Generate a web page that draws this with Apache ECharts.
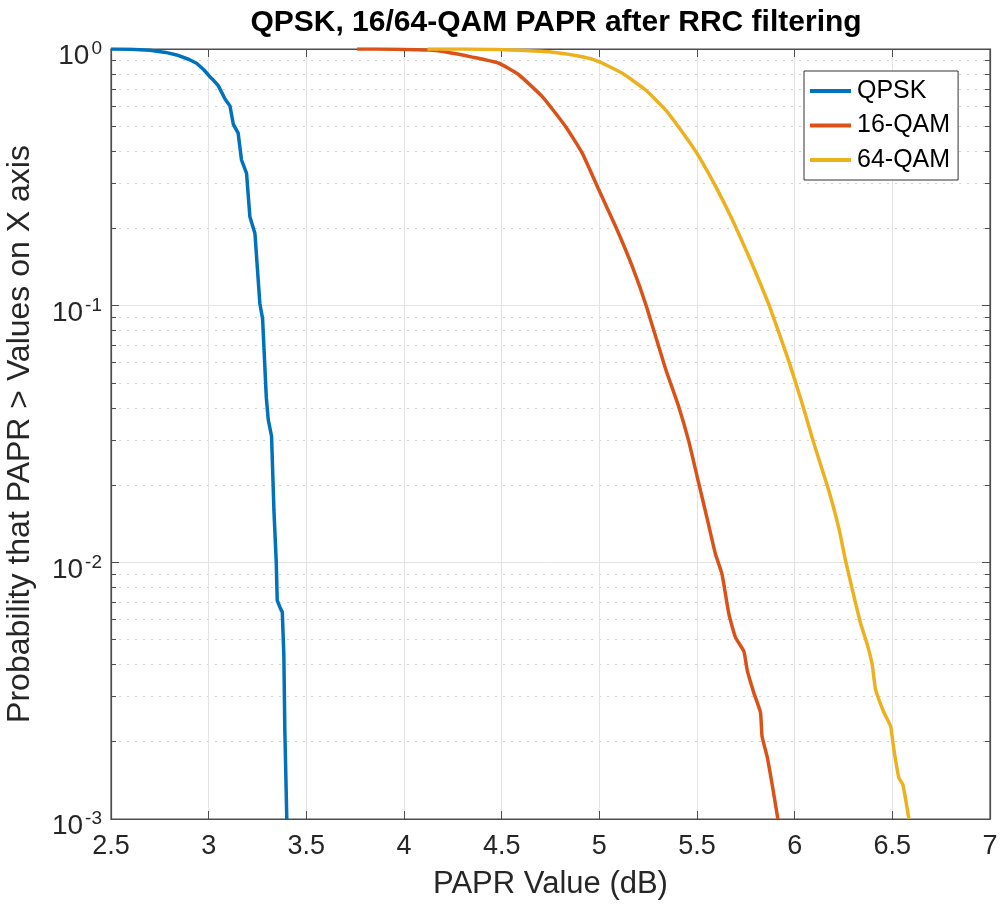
<!DOCTYPE html>
<html>
<head>
<meta charset="utf-8">
<script src="https://cdn.jsdelivr.net/npm/echarts@6/dist/echarts.min.js"></script>
<style>
html,body{margin:0;padding:0;background:#fff;}
#chart{width:1001px;height:911px;}
</style>
</head>
<body>
<div id="chart"></div>
<script>
// ---- Data ----
const seriesNames = ['QPSK', '16-QAM', '64-QAM'];

const qpskX = [2.50, 2.60, 2.70, 2.78, 2.836, 2.90, 2.938, 2.975, 3.006, 3.025, 3.049, 3.07, 3.083, 3.109, 3.126, 3.151, 3.168, 3.194, 3.211, 3.237, 3.262, 3.276, 3.295, 3.305, 3.322, 3.334, 3.346, 3.351, 3.368, 3.377, 3.385, 3.390, 3.400];
const qpskP = [1.0, 0.997, 0.988, 0.97, 0.948, 0.91, 0.88, 0.83, 0.78, 0.755, 0.72, 0.67, 0.64, 0.60, 0.51, 0.47, 0.37, 0.328, 0.222, 0.191, 0.102, 0.089, 0.044, 0.036, 0.031, 0.016, 0.010, 0.0071, 0.0066, 0.0064, 0.0043, 0.0022, 0.001];

const qam16X = [3.76, 3.95, 4.13, 4.234, 4.35, 4.486, 4.589, 4.708, 4.828, 4.913, 4.998, 5.084, 5.169, 5.24, 5.338, 5.406, 5.458, 5.509, 5.552, 5.594, 5.628, 5.663, 5.697, 5.740, 5.757, 5.791, 5.825, 5.833, 5.859, 5.885, 5.914];
const qam16P = [1.0, 0.998, 0.99, 0.967, 0.93, 0.88, 0.792, 0.652, 0.498, 0.392, 0.282, 0.203, 0.142, 0.100, 0.057, 0.0405, 0.0296, 0.0203, 0.0148, 0.0108, 0.0090, 0.0063, 0.0051, 0.0045, 0.0038, 0.0031, 0.0026, 0.0021, 0.00175, 0.00136, 0.001];

const qam64X = [4.12, 4.30, 4.486, 4.60, 4.742, 4.913, 4.998, 5.118, 5.237, 5.340, 5.442, 5.510, 5.596, 5.681, 5.766, 5.80, 5.87, 5.970, 6.038, 6.090, 6.124, 6.175, 6.227, 6.260, 6.294, 6.337, 6.371, 6.397, 6.414, 6.457, 6.491, 6.508, 6.533, 6.554, 6.585];
const qam64P = [1.0, 0.999, 0.995, 0.988, 0.976, 0.933, 0.893, 0.804, 0.692, 0.578, 0.455, 0.381, 0.291, 0.216, 0.155, 0.135, 0.100, 0.0608, 0.0417, 0.0305, 0.0252, 0.019, 0.0135, 0.0102, 0.0079, 0.0058, 0.0048, 0.0040, 0.0032, 0.0026, 0.0023, 0.00186, 0.00145, 0.00136, 0.001];

const xTicks = { min: 2.5, max: 7, interval: 0.5 };
const yTicks = { min: 0.001, max: 1 };

const colors = ['#0072BD', '#D95319', '#EDB120'];

function pairs(xs, ys) { return xs.map((x, i) => [x, ys[i]]); }

const FONT = '"Liberation Sans", Arial, Helvetica, sans-serif';
const TXT = '#262626';
const AX = '#4d4d4d';

const chart = echarts.init(document.getElementById('chart'), null, { renderer: 'canvas' });

function expOf(v) { return Math.round(Math.log10(v)); }

function lineSeries(i, xs, ys, smooth) {
  return {
    name: seriesNames[i], type: 'line', data: pairs(xs, ys),
    symbol: 'none', showSymbol: false,
    smooth: smooth,
    lineStyle: { width: 3.5, color: colors[i] },
    itemStyle: { color: colors[i] },
    clip: true
  };
}

const option = {
  backgroundColor: '#fff',
  animation: false,
  color: colors,
  title: {
    text: 'QPSK, 16/64-QAM PAPR after RRC filtering',
    left: 551,
    textAlign: 'center',
    top: 3,
    textStyle: { fontFamily: FONT, fontWeight: 'bold', fontSize: 30, color: '#000' }
  },
  grid: { left: 111, right: 11, top: 49, bottom: 92, show: true, borderColor: AX, borderWidth: 1.2, backgroundColor: '#fff', outerBoundsMode: 'none', containLabel: false },
  legend: {
    data: seriesNames,
    orient: 'vertical',
    left: 804,
    top: 71,
    padding: [7, 8, 7, 6],
    icon: 'rect',
    itemWidth: 41,
    itemHeight: 4,
    itemGap: 8.5,
    backgroundColor: '#fff',
    borderColor: '#333',
    borderWidth: 1,
    borderRadius: 0,
    textStyle: { fontFamily: FONT, fontSize: 25, color: '#000', lineHeight: 26, padding: [0, 0, 0, 1] }
  },
  xAxis: [{
    type: 'value',
    min: xTicks.min, max: xTicks.max, interval: xTicks.interval,
    name: 'PAPR Value (dB)',
    nameLocation: 'middle',
    nameGap: 50,
    nameTextStyle: { fontFamily: FONT, fontSize: 31, color: TXT },
    axisLine: { show: true, lineStyle: { color: AX, width: 1.2 } },
    axisTick: { show: true, inside: true, length: 8, lineStyle: { color: AX } },
    axisLabel: { fontFamily: FONT, fontSize: 27, color: TXT, margin: 14 },
    splitLine: { show: true, lineStyle: { color: '#e3e3e3', width: 1 } }
  }, {
    type: 'value',
    position: 'top',
    min: xTicks.min, max: xTicks.max, interval: xTicks.interval,
    axisLine: { show: true, lineStyle: { color: AX, width: 1.2 } },
    axisTick: { show: true, inside: true, length: 8, lineStyle: { color: AX } },
    axisLabel: { show: false },
    splitLine: { show: false }
  }],
  yAxis: [{
    type: 'log',
    logBase: 10,
    min: yTicks.min, max: yTicks.max,
    name: 'Probability that PAPR > Values on X axis',
    nameLocation: 'middle',
    nameGap: 75,
    nameRotate: 90,
    nameTextStyle: { fontFamily: FONT, fontSize: 32, color: TXT },
    axisLine: { show: true, lineStyle: { color: AX, width: 1.2 } },
    axisTick: { show: true, inside: true, length: 8, lineStyle: { color: AX } },
    minorTick: { show: true, splitNumber: 9, length: 5, lineStyle: { color: AX } },
    minorSplitLine: { show: true, lineStyle: { color: '#d0d0d0', type: [2, 6], width: 1 } },
    axisLabel: {
      margin: 9,
      padding: [15, 0, 0, 0],
      formatter: function (v) { return '{b|10}{h|' + expOf(v) + '}'; },
      rich: {
        b: { fontFamily: FONT, fontSize: 28, color: TXT },
        h: { fontFamily: FONT, fontSize: 19, color: 'rgba(0,0,0,0)', padding: [0, 0, 0, 2] }
      }
    },
    splitLine: { show: true, lineStyle: { color: '#e3e3e3', width: 1 } }
  }, {
    type: 'log',
    logBase: 10,
    position: 'right',
    min: yTicks.min, max: yTicks.max,
    axisLine: { show: true, lineStyle: { color: AX, width: 1.2 } },
    axisTick: { show: true, inside: true, length: 8, lineStyle: { color: AX } },
    minorTick: { show: true, splitNumber: 9, length: 5, lineStyle: { color: AX } },
    axisLabel: { show: false },
    splitLine: { show: false }
  }, {
    type: 'log',
    logBase: 10,
    position: 'left',
    offset: 0,
    min: yTicks.min, max: yTicks.max,
    axisLine: { show: false },
    axisTick: { show: false },
    splitLine: { show: false },
    axisLabel: {
      margin: 9,
      padding: [0, 0, 26, 0],
      fontFamily: FONT, fontSize: 19, color: TXT,
      formatter: function (v) { return String(expOf(v)); }
    }
  }],
  series: [
    lineSeries(0, qpskX, qpskP, false),
    lineSeries(1, qam16X, qam16P, 0.15),
    lineSeries(2, qam64X, qam64P, 0.15)
  ]
};

chart.setOption(option);
</script>
</body>
</html>
